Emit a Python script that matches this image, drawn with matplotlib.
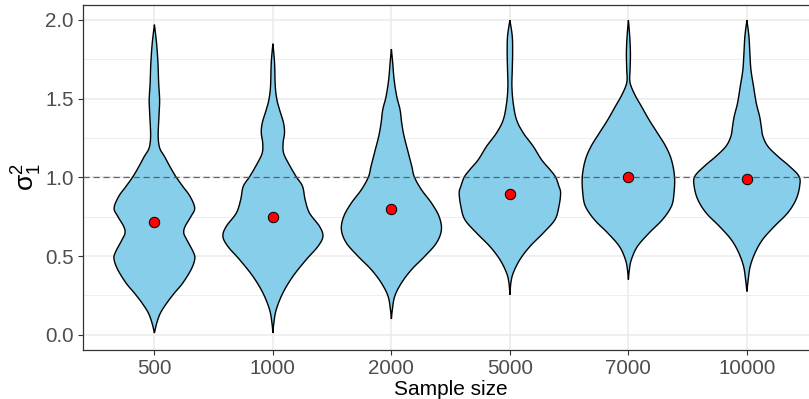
import numpy as np
import matplotlib
matplotlib.use('Agg')
import matplotlib.pyplot as plt

plt.rcParams['font.family'] = ['Liberation Sans', 'DejaVu Sans']
plt.rcParams['mathtext.fontset'] = 'custom'
plt.rcParams['mathtext.rm'] = 'Liberation Sans'
plt.rcParams['mathtext.it'] = 'Liberation Sans'

categories = ['500', '1000', '2000', '5000', '7000', '10000']
means = [0.714, 0.750, 0.799, 0.896, 1.000, 0.991]
ref_line = 1.0

# Violin outlines: y levels (data units) and half-widths (category units)
v500_y = [1.970, 1.854, 1.727, 1.600, 1.493, 1.409, 1.282, 1.218, 1.176, 1.133, 1.070, 1.006, 0.943, 0.879,
          0.805, 0.752, 0.688, 0.646, 0.604, 0.519, 0.477, 0.413, 0.328, 0.265, 0.201, 0.138, 0.074, 0.011]
v500_w = [0.0, 0.018, 0.030, 0.036, 0.044, 0.040, 0.032, 0.036, 0.050, 0.085, 0.130, 0.180, 0.239, 0.301,
          0.340, 0.309, 0.259, 0.248, 0.273, 0.332, 0.340, 0.309, 0.239, 0.169, 0.104, 0.051, 0.020, 0.0]

v1000_y = [1.849, 1.727, 1.578, 1.493, 1.430, 1.345, 1.282, 1.218, 1.155, 1.091, 1.006, 0.943, 0.858,
           0.773, 0.688, 0.625, 0.561, 0.477, 0.371, 0.265, 0.159, 0.074, 0.011]
v1000_w = [0.0, 0.014, 0.020, 0.034, 0.056, 0.090, 0.098, 0.086, 0.090, 0.130, 0.195, 0.250, 0.272,
           0.309, 0.394, 0.422, 0.380, 0.281, 0.169, 0.084, 0.028, 0.008, 0.0]

v2000_y = [1.815, 1.727, 1.621, 1.514, 1.430, 1.345, 1.261, 1.155, 1.070, 1.002, 0.922, 0.837, 0.752,
           0.667, 0.583, 0.498, 0.413, 0.328, 0.244, 0.159, 0.100]
v2000_w = [0.0, 0.011, 0.023, 0.045, 0.073, 0.087, 0.107, 0.143, 0.172, 0.194, 0.253, 0.338, 0.402,
           0.422, 0.380, 0.281, 0.169, 0.084, 0.028, 0.008, 0.0]

v5000_y = [1.998, 1.896, 1.790, 1.684, 1.578, 1.472, 1.366, 1.282, 1.197, 1.112, 1.049, 1.002, 0.943,
           0.900, 0.816, 0.731, 0.646, 0.561, 0.477, 0.392, 0.328, 0.254]
v5000_w = [0.0, 0.020, 0.023, 0.020, 0.017, 0.028, 0.056, 0.113, 0.197, 0.267, 0.338, 0.385, 0.414,
           0.428, 0.414, 0.380, 0.281, 0.169, 0.084, 0.028, 0.008, 0.0]

v7000_y = [1.998, 1.896, 1.790, 1.684, 1.621, 1.578, 1.514, 1.451, 1.366, 1.282, 1.197, 1.112, 1.006,
           0.900, 0.816, 0.731, 0.646, 0.561, 0.477, 0.413, 0.350]
v7000_w = [0.0, 0.011, 0.017, 0.014, 0.011, 0.023, 0.062, 0.110, 0.174, 0.245, 0.315, 0.363, 0.389,
           0.385, 0.363, 0.287, 0.174, 0.076, 0.025, 0.008, 0.0]

v10000_y = [1.998, 1.896, 1.790, 1.684, 1.578, 1.472, 1.388, 1.324, 1.261, 1.197, 1.133, 1.070, 1.006,
            0.943, 0.858, 0.773, 0.688, 0.604, 0.519, 0.434, 0.350, 0.275]
v10000_w = [0.0, 0.017, 0.025, 0.034, 0.056, 0.079, 0.107, 0.121, 0.135, 0.177, 0.262, 0.360, 0.440,
            0.445, 0.414, 0.343, 0.231, 0.132, 0.068, 0.028, 0.011, 0.0]

violins = [(v500_y, v500_w), (v1000_y, v1000_w), (v2000_y, v2000_w),
           (v5000_y, v5000_w), (v7000_y, v7000_w), (v10000_y, v10000_w)]


def catmull_rom(ys, ws, n=10):
    p = np.column_stack([ys, ws]).astype(float)
    p = np.vstack([p[0], p, p[-1]])
    out = []
    for i in range(1, len(p) - 2):
        p0, p1, p2, p3 = p[i - 1], p[i], p[i + 1], p[i + 2]
        t = np.linspace(0, 1, n, endpoint=False)[:, None]
        seg = 0.5 * ((2 * p1) + (-p0 + p2) * t + (2 * p0 - 5 * p1 + 4 * p2 - p3) * t ** 2 +
                     (-p0 + 3 * p1 - 3 * p2 + p3) * t ** 3)
        out.append(seg)
    out.append(p[-2][None, :])
    out = np.vstack(out)
    out[:, 1] = np.clip(out[:, 1], 0, None)
    return out[:, 0], out[:, 1]


W, H = 809, 399
fig = plt.figure(figsize=(W / 100, H / 100), dpi=100)
left_px, right_px, top_px, bot_px = 83.3, 818.0, 5.0, 350.0
ax = fig.add_axes([left_px / W, 1 - bot_px / H, (right_px - left_px) / W, (bot_px - top_px) / H])

positions = np.arange(1, len(categories) + 1)

ax.set_xlim(0.4, 6.6)
ax.set_ylim(-0.097, 2.095)

ax.set_yticks([0, 0.5, 1.0, 1.5, 2.0])
ax.set_yticklabels(['0.0', '0.5', '1.0', '1.5', '2.0'])
ax.set_yticks([0.25, 0.75, 1.25, 1.75], minor=True)
ax.set_xticks(positions)
ax.set_xticklabels(categories)

ax.grid(True, which='major', color='#EBEBEB', linewidth=1.1, zorder=0)
ax.grid(True, which='minor', axis='y', color='#EBEBEB', linewidth=0.6, zorder=0)
ax.set_axisbelow(True)

for pos, (ys, ws) in zip(positions, violins):
    sy, sw = catmull_rom(ys, ws)
    xs = np.concatenate([pos - sw, (pos + sw)[::-1]])
    yy = np.concatenate([sy, sy[::-1]])
    ax.fill(xs, yy, facecolor='#87CEEB', edgecolor='black', linewidth=1.0, zorder=2)

ax.axhline(ref_line, color='#555555', linestyle=(0, (5, 3)), linewidth=0.9, alpha=0.9, zorder=3)

ax.plot(positions, means, linestyle='none', marker='o', markersize=7.5,
        markerfacecolor='red', markeredgecolor='black', markeredgewidth=0.7, zorder=4)

for s in ax.spines.values():
    s.set_color('#333333')
    s.set_linewidth(0.9)

ax.tick_params(axis='both', which='major', length=3.5, width=0.8, color='#333333',
               labelcolor='#4D4D4D', labelsize=14.8)
ax.tick_params(axis='x', which='major', pad=3)
ax.tick_params(axis='both', which='minor', length=0)

ax.set_xlabel('Sample size', fontsize=15, color='black', labelpad=1.5)
ax.set_ylabel(r'$\mathregular{\sigma_1^2}$', fontsize=19, color='black', labelpad=1)

fig.savefig('out.png', dpi=100)
